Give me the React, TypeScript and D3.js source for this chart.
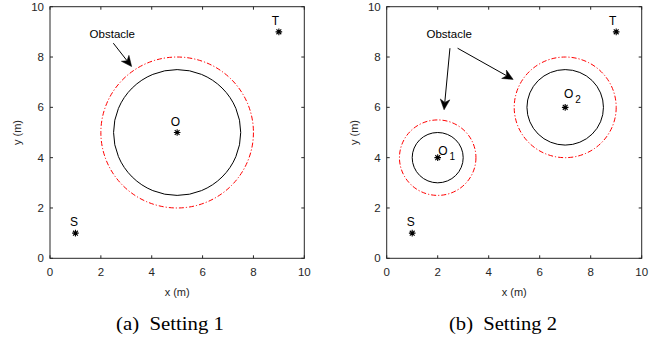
import React from "react";
import * as d3 from "d3";

const axisTicks = [0, 2, 4, 6, 8, 10];
const startPoint: [number, number] = [1, 1];
const targetPoint: [number, number] = [9, 9];

const s1Centers: [number, number][] = [[5, 5]];
const s1Radii = [2.5];
const s1SafeRadii = [3];
const s1Labels = [{ t: "O", sub: "", x: 4.93, y: 5.26, anchor: "middle" }];

const s2Centers: [number, number][] = [[2, 4], [7, 6]];
const s2Radii = [1, 1.5];
const s2SafeRadii = [1.5, 2];
const s2Labels = [
  { t: "O", sub: "1", x: 2.02, y: 4.1, anchor: "start" },
  { t: "O", sub: "2", x: 6.95, y: 6.36, anchor: "start" },
];

const s1Arrows = [[2.49, 8.55, 3.21, 7.62]];
const s2Arrows = [
  [2.48, 8.35, 2.25, 5.9],
  [2.78, 8.35, 4.96, 7.11],
];
const obstacleLabelPos = [2.45, 8.76];
const captions = ["(a)  Setting 1", "(b)  Setting 2"];

const AX = "#262626";
const SANS = "'Liberation Sans', Arial, sans-serif";

function Asterisk({ x, y }: { x: number; y: number }) {
  const a = 3.3;
  const b = 2.4;
  const d = `M${x - a},${y}L${x + a},${y}M${x},${y - a}L${x},${y + a}M${x - b},${y - b}L${x + b},${y + b}M${x - b},${y + b}L${x + b},${y - b}`;
  return <path d={d} stroke="#000" strokeWidth={1.1} fill="none" />;
}

function Arrow({ x1, y1, x2, y2 }: { x1: number; y1: number; x2: number; y2: number }) {
  const dx = x2 - x1;
  const dy = y2 - y1;
  const len = Math.hypot(dx, dy);
  const ux = dx / len;
  const uy = dy / len;
  const px = -uy;
  const py = ux;
  const L = 10.5;
  const W = 4.8;
  const N = 7.5;
  const bx = x2 - ux * L;
  const by = y2 - uy * L;
  const nx = x2 - ux * N;
  const ny = y2 - uy * N;
  const head = `M${x2},${y2}L${bx + px * W},${by + py * W}L${nx},${ny}L${bx - px * W},${by - py * W}Z`;
  return (
    <g>
      <line x1={x1} y1={y1} x2={nx} y2={ny} stroke="#000" strokeWidth={1} />
      <path d={head} fill="#000" stroke="#000" strokeWidth={0.5} />
    </g>
  );
}

function Panel({
  left,
  right,
  centers,
  radii,
  safeRadii,
  labels,
  arrows,
  caption,
  captionX,
  clipId,
}: any) {
  const top = 6.7;
  const bottom = 258.3;
  const x = d3.scaleLinear().domain([0, 10]).range([left, right]);
  const y = d3.scaleLinear().domain([0, 10]).range([bottom, top]);
  const tl = 3;
  const mid = (left + right) / 2;
  return (
    <g>
      <defs>
        <clipPath id={clipId}>
          <rect x={left} y={top} width={right - left} height={bottom - top} />
        </clipPath>
      </defs>
      <g clipPath={`url(#${clipId})`}>
        {centers.map((c: [number, number], i: number) => (
          <g key={i}>
            <ellipse
              cx={x(c[0])}
              cy={y(c[1])}
              rx={x(safeRadii[i]) - x(0)}
              ry={y(0) - y(safeRadii[i])}
              fill="none"
              stroke="#ff0000"
              strokeWidth={1}
              strokeDasharray="5,2,1.2,2"
            />
            <ellipse
              cx={x(c[0])}
              cy={y(c[1])}
              rx={x(radii[i]) - x(0)}
              ry={y(0) - y(radii[i])}
              fill="none"
              stroke="#000"
              strokeWidth={1}
            />
            <Asterisk x={x(c[0])} y={y(c[1])} />
          </g>
        ))}
        <Asterisk x={x(startPoint[0])} y={y(startPoint[1])} />
        <Asterisk x={x(targetPoint[0])} y={y(targetPoint[1])} />
      </g>
      <rect x={left} y={top} width={right - left} height={bottom - top} fill="none" stroke={AX} strokeWidth={1} />
      {axisTicks.map((t) => (
        <g key={t}>
          <line x1={x(t)} x2={x(t)} y1={bottom} y2={bottom - tl} stroke={AX} />
          <line x1={x(t)} x2={x(t)} y1={top} y2={top + tl} stroke={AX} />
          <line x1={left} x2={left + tl} y1={y(t)} y2={y(t)} stroke={AX} />
          <line x1={right} x2={right - tl} y1={y(t)} y2={y(t)} stroke={AX} />
          <text x={x(t)} y={bottom + 18} textAnchor="middle" fontSize={11.5} fontFamily={SANS} fill={AX}>
            {t}
          </text>
          <text x={left - 6} y={y(t) + 4} textAnchor="end" fontSize={11.5} fontFamily={SANS} fill={AX}>
            {t}
          </text>
        </g>
      ))}
      <text x={mid} y={296} textAnchor="middle" fontSize={11} fontFamily={SANS} fill={AX}>
        x (m)
      </text>
      <text
        transform={`translate(${left - 29},${(top + bottom) / 2}) rotate(-90)`}
        textAnchor="middle"
        fontSize={11}
        fontFamily={SANS}
        fill={AX}
      >
        y (m)
      </text>
      <text x={x(1) - 1.5} y={y(1) - 7} textAnchor="middle" fontSize={12} fontFamily={SANS} fill="#000">
        S
      </text>
      <text x={x(9) - 3.5} y={y(9) - 7} textAnchor="middle" fontSize={12} fontFamily={SANS} fill="#000">
        T
      </text>
      {labels.map((l: any, i: number) => (
        <text key={i} x={x(l.x)} y={y(l.y)} textAnchor={l.anchor} fontSize={12} fontFamily={SANS} fill="#000">
          {l.t}
          {l.sub ? (
            <tspan dx={2} dy={5} fontSize={10}>
              {l.sub}
            </tspan>
          ) : null}
        </text>
      ))}
      <text
        x={x(obstacleLabelPos[0])}
        y={y(obstacleLabelPos[1])}
        textAnchor="middle"
        fontSize={11.5}
        fontFamily={SANS}
        fill="#000"
      >
        Obstacle
      </text>
      {arrows.map((a: number[], i: number) => (
        <Arrow key={i} x1={x(a[0])} y1={y(a[1])} x2={x(a[2])} y2={y(a[3])} />
      ))}
      <text
        x={captionX}
        y={330}
        textAnchor="middle"
        fontSize={18}
        fontFamily="'Liberation Serif', 'Times New Roman', serif"
        fill="#000"
        textLength={108}
        lengthAdjust="spacingAndGlyphs"
        style={{ whiteSpace: "pre" }}
      >
        {caption}
      </text>
    </g>
  );
}

export default function App() {
  return (
    <svg
      width={665}
      height={339}
      style={{ position: "absolute", left: 0, top: 0, background: "#fff" }}
    >
      <rect x={0} y={0} width={665} height={339} fill="#fff" />
      <Panel
        left={50}
        right={304.3}
        centers={s1Centers}
        radii={s1Radii}
        safeRadii={s1SafeRadii}
        labels={s1Labels}
        arrows={s1Arrows}
        caption={captions[0]}
        captionX={170}
        clipId="c1"
      />
      <Panel
        left={386.7}
        right={641.7}
        centers={s2Centers}
        radii={s2Radii}
        safeRadii={s2SafeRadii}
        labels={s2Labels}
        arrows={s2Arrows}
        caption={captions[1]}
        captionX={503}
        clipId="c2"
      />
    </svg>
  );
}
